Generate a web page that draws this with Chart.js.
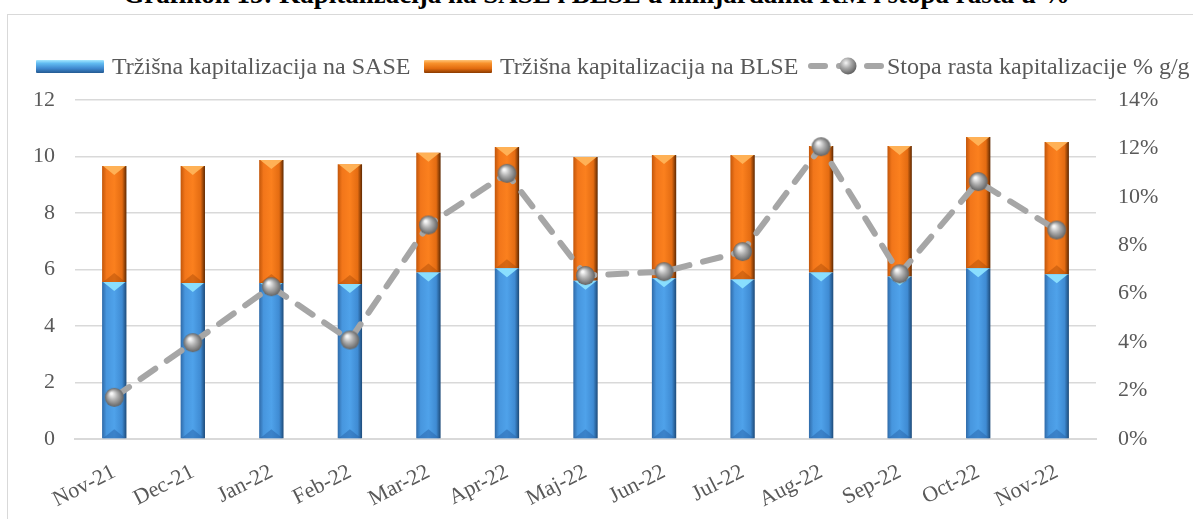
<!DOCTYPE html>
<html>
<head>
<meta charset="utf-8">
<script src="https://cdn.jsdelivr.net/npm/chart.js@4.4.1/dist/chart.umd.min.js"></script>
<style>
  html, body { margin: 0; padding: 0; background: #fff; overflow: hidden; }
  #wrap { position: relative; width: 1193px; height: 519px; overflow: hidden; }
  #frame { position: absolute; left: 7px; top: 14px; width: 1300px; height: 600px; border: 1px solid #d9d9d9; box-sizing: border-box; }
  #title { position: absolute; left: 0; width: 1193px; top: -19px; text-align: center; font: bold 27px/27px "Liberation Serif", serif; color: #000; white-space: nowrap; }
  #chart { position: absolute; left: 0; top: 0; }
  .lg { position: absolute; top: 52px; height: 28px; display: flex; align-items: center; font: 24px "Liberation Serif", serif; color: #595959; white-space: nowrap; }
  .sw { width: 68px; height: 13px; margin-right: 8px; border-radius: 1px; }
  .sw.blue { background: linear-gradient(#a6e8ff 0%, #62bcf2 25%, #3f88cf 65%, #245a92 100%); }
  .sw.orange { background: linear-gradient(#ffc57a 0%, #f8922c 25%, #e26c10 65%, #8a3a00 100%); }
</style>
</head>
<body>
<div id="wrap">
  <div id="frame"></div>
  <div id="title">Grafikon 15: Kapitalizacija na SASE i BLSE u milijardama KM i stopa rasta u %</div>
  <canvas id="chart" width="1193" height="519"></canvas>
  <div class="lg" style="left:36px"><div class="sw blue"></div>Tržišna kapitalizacija na SASE</div>
  <div class="lg" style="left:424px"><div class="sw orange"></div>Tržišna kapitalizacija na BLSE</div>
  <div class="lg" style="left:808px">
    <svg width="76" height="22" style="margin-right:3px">
      <defs>
        <radialGradient id="sph" cx="0.38" cy="0.32" r="0.7">
          <stop offset="0" stop-color="#f4f4f4"/>
          <stop offset="0.45" stop-color="#a8a8a8"/>
          <stop offset="1" stop-color="#5e5e5e"/>
        </radialGradient>
      </defs>
      <line x1="3" y1="11" x2="73" y2="11" stroke="#a6a6a6" stroke-width="6" stroke-linecap="round" stroke-dasharray="14 14"/>
      <circle cx="40" cy="11" r="8.5" fill="url(#sph)"/>
    </svg>Stopa rasta kapitalizacije % g/g</div>
</div>
<script>
const categories = ['Nov-21', 'Dec-21', 'Jan-22', 'Feb-22', 'Mar-22', 'Apr-22', 'Maj-22', 'Jun-22', 'Jul-22', 'Aug-22', 'Sep-22', 'Oct-22', 'Nov-22'];
const saseCap = [5.56, 5.52, 5.52, 5.49, 5.89, 6.04, 5.60, 5.69, 5.65, 5.89, 5.75, 6.04, 5.83];
const blseCap = [4.10, 4.14, 4.36, 4.24, 4.24, 4.30, 4.38, 4.36, 4.40, 4.48, 4.62, 4.65, 4.68];
const growthPct = [1.72, 3.98, 6.29, 4.09, 8.84, 10.97, 6.75, 6.91, 7.74, 12.07, 6.82, 10.63, 8.63];
const leftTicks = [0, 2, 4, 6, 8, 10, 12];
const rightTicks = [0, 2, 4, 6, 8, 10, 12, 14];

const BAR_PCT = 0.31;
const textGray = '#595959';
const gridGray = '#d9d9d9';

// gray sphere used as point marker
function makeSphere(r) {
  const c = document.createElement('canvas');
  c.width = c.height = r * 2 + 2;
  const g = c.getContext('2d');
  const cx = r + 1, cy = r + 1;
  const grad = g.createRadialGradient(cx - r * 0.3, cy - r * 0.4, r * 0.1, cx, cy, r);
  grad.addColorStop(0, '#f8f8f8');
  grad.addColorStop(0.45, '#b0b0b0');
  grad.addColorStop(1, '#636363');
  g.fillStyle = grad;
  g.beginPath();
  g.arc(cx, cy, r, 0, Math.PI * 2);
  g.fill();
  return c;
}
const sphere = makeSphere(9.5);

const blueStops = [[0, '#2f6aa8'], [0.18, '#4796de'], [0.5, '#4fa2ea'], [0.82, '#3f8bd3'], [1, '#1d4a78']];
const orangeStops = [[0, '#c2560a'], [0.18, '#f2761a'], [0.5, '#fb801e'], [0.82, '#e46c12'], [1, '#5e2800']];

function barGradient(stops) {
  return function (ctx) {
    const chart = ctx.chart;
    const xs = chart.scales.x;
    if (!xs || !chart.chartArea || ctx.dataIndex === undefined) return stops[2][1];
    const cx = xs.getPixelForValue(ctx.dataIndex);
    const w = (xs.width / categories.length) * BAR_PCT;
    if (!Number.isFinite(cx) || !Number.isFinite(w) || w <= 0) return stops[2][1];
    const g = chart.ctx.createLinearGradient(cx - w / 2, 0, cx + w / 2, 0);
    stops.forEach(s => g.addColorStop(s[0], s[1]));
    return g;
  };
}

// light bevel triangles on top of every bar segment
const bevelPlugin = {
  id: 'bevel',
  afterDatasetDraw(chart, args) {
    const meta = args.meta;
    if (meta.type !== 'bar') return;
    const c = chart.ctx;
    const isSase = meta.index === 1;
    const topCol = isSase ? 'rgba(140,225,255,0.95)' : 'rgba(255,180,90,0.95)';
    const botCol = isSase ? 'rgba(40,100,170,0.5)' : 'rgba(150,60,0,0.35)';
    c.save();
    meta.data.forEach(bar => {
      const p = bar.getProps(['x', 'y', 'base', 'width'], true);
      const l = p.x - p.width / 2, r = p.x + p.width / 2;
      const h = Math.min(9, Math.abs(p.base - p.y) / 3);
      c.fillStyle = topCol;
      c.beginPath();
      c.moveTo(l + 1, p.y);
      c.lineTo(r - 1, p.y);
      c.lineTo(p.x, p.y + h);
      c.closePath();
      c.fill();
      c.fillStyle = botCol;
      c.beginPath();
      c.moveTo(l + 1, p.base);
      c.lineTo(r - 1, p.base);
      c.lineTo(p.x, p.base - h);
      c.closePath();
      c.fill();
    });
    c.restore();
  }
};

const tickFont = { family: 'Liberation Serif', size: 22 };

new Chart(document.getElementById('chart'), {
  type: 'bar',
  data: {
    labels: categories,
    datasets: [
      {
        type: 'line',
        label: 'Stopa rasta kapitalizacije % g/g',
        data: growthPct,
        yAxisID: 'y1',
        order: 0,
        borderColor: '#a6a6a6',
        borderWidth: 6,
        borderDash: [18, 14],
        borderCapStyle: 'round',
        tension: 0,
        pointStyle: sphere,
        pointRadius: 9,
        fill: false
      },
      {
        label: 'Tržišna kapitalizacija na SASE',
        data: saseCap,
        yAxisID: 'y',
        order: 1,
        backgroundColor: barGradient(blueStops),
        borderWidth: 0,
        barPercentage: BAR_PCT,
        categoryPercentage: 1
      },
      {
        label: 'Tržišna kapitalizacija na BLSE',
        data: blseCap,
        yAxisID: 'y',
        order: 2,
        backgroundColor: barGradient(orangeStops),
        borderWidth: 0,
        barPercentage: BAR_PCT,
        categoryPercentage: 1
      }
    ]
  },
  options: {
    responsive: false,
    animation: false,
    layout: { padding: { top: 100, left: 0, right: 0, bottom: 0 } },
    plugins: { legend: { display: false }, tooltip: { enabled: false } },
    scales: {
      x: {
        stacked: true,
        grid: { display: false, drawTicks: false },
        border: { color: gridGray, width: 2 },
        ticks: { color: textGray, font: tickFont, minRotation: 27, maxRotation: 27, padding: 20, autoSkip: false },
        afterFit(s) { s.height = 80; }
      },
      y: {
        stacked: true,
        min: 0, max: 12,
        afterBuildTicks(s) { s.ticks = leftTicks.map(v => ({ value: v })); },
        grid: { color: gridGray, lineWidth: 1.5, drawTicks: false },
        border: { display: false },
        ticks: { color: textGray, font: tickFont, padding: 20 },
        afterFit(s) { s.width = 75; }
      },
      y1: {
        position: 'right',
        min: 0, max: 14,
        afterBuildTicks(s) { s.ticks = rightTicks.map(v => ({ value: v })); },
        grid: { display: false, drawTicks: false },
        border: { display: false },
        ticks: { color: textGray, font: tickFont, padding: 22, callback: v => v + '%' },
        afterFit(s) { s.width = 97; }
      }
    }
  },
  plugins: [bevelPlugin]
});
</script>
</body>
</html>
